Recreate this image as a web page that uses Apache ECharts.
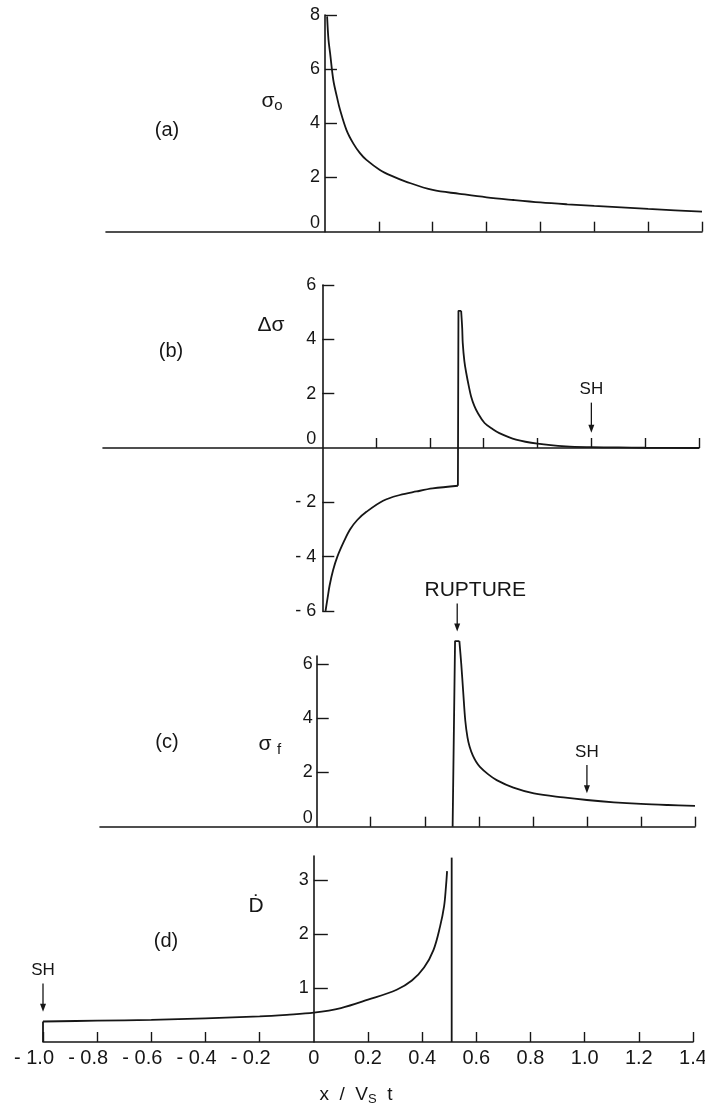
<!DOCTYPE html>
<html>
<head>
<meta charset="utf-8">
<script src="https://cdn.jsdelivr.net/npm/echarts@6/dist/echarts.min.js"></script>
<style>
  html, body { margin: 0; padding: 0; background: #ffffff; }
  #chart { width: 705px; height: 1105px; }
</style>
</head>
<body>
<div id="chart"></div>
<script>
// ---------- data ----------
// (a) initial stress sigma_0 vs x / Vs t
const sigma0X = [0.008, 0.013, 0.019, 0.031, 0.045, 0.056, 0.08, 0.105, 0.13, 0.154, 0.204, 0.25, 0.30, 0.40, 0.50, 0.60, 0.70, 0.80, 0.90, 1.00, 1.10, 1.20, 1.30, 1.40];
const sigma0Y = [7.95, 7.1, 6.6, 5.6, 4.95, 4.5, 3.75, 3.26, 2.9, 2.65, 2.28, 2.05, 1.85, 1.54, 1.40, 1.27, 1.17, 1.08, 1.01, 0.95, 0.90, 0.84, 0.79, 0.74];

// (b) stress change: negative branch, jump at the rupture front, decaying peak
const dSigmaNegX = [0.012, 0.02, 0.027, 0.04, 0.056, 0.08, 0.103, 0.13, 0.164, 0.226, 0.288, 0.35, 0.41, 0.504];
const dSigmaNegY = [-6.0, -5.5, -5.07, -4.5, -4.0, -3.45, -3.0, -2.65, -2.35, -1.94, -1.73, -1.6, -1.49, -1.39];
const dSigmaJumpX = [0.504, 0.506, 0.516];
const dSigmaJumpY = [-1.39, 5.05, 5.05];
const dSigmaPosX = [0.516, 0.52, 0.522, 0.528, 0.535, 0.545, 0.553, 0.565, 0.578, 0.603, 0.63, 0.658, 0.72, 0.80, 0.905, 1.0, 1.1, 1.2, 1.4];
const dSigmaPosY = [5.05, 4.4, 3.86, 3.2, 2.76, 2.25, 1.9, 1.55, 1.29, 0.92, 0.72, 0.55, 0.31, 0.16, 0.06, 0.03, 0.02, 0.01, 0.0];

// (c) final stress sigma_f
const sigmaFRiseX = [0.503, 0.512, 0.528];
const sigmaFRiseY = [0.0, 6.85, 6.85];
const sigmaFDecayX = [0.528, 0.535, 0.542, 0.55, 0.558, 0.566, 0.578, 0.59, 0.604, 0.635, 0.666, 0.728, 0.804, 0.913, 1.0, 1.1, 1.2, 1.3, 1.4];
const sigmaFDecayY = [6.85, 6.0, 5.0, 3.9, 3.3, 2.95, 2.62, 2.4, 2.21, 1.93, 1.72, 1.44, 1.23, 1.08, 0.985, 0.90, 0.84, 0.80, 0.77];

// (d) slip velocity D-dot
const dDotEdgeX = [-1.0, -1.0];
const dDotEdgeY = [0.0, 0.38];
const dDotX = [-1.0, -0.8, -0.6, -0.4, -0.2, -0.1, 0.0, 0.1, 0.2, 0.306, 0.362, 0.407, 0.442, 0.466, 0.481, 0.488, 0.492];
const dDotY = [0.38, 0.395, 0.41, 0.44, 0.475, 0.505, 0.545, 0.63, 0.785, 0.97, 1.14, 1.38, 1.71, 2.14, 2.52, 2.89, 3.17];
const frontX = [0.509, 0.509];
const frontY = [0.0, 3.42];

// tick positions
const xTicksUpper = [0.2, 0.4, 0.6, 0.8, 1.0, 1.2, 1.4];
const xTicksLower = [-1.0, -0.8, -0.6, -0.4, -0.2, 0.2, 0.4, 0.6, 0.8, 1.0, 1.2, 1.4];
const xLabelsLower = [-1.0, -0.8, -0.6, -0.4, -0.2, 0, 0.2, 0.4, 0.6, 0.8, 1.0, 1.2, 1.4];
const yTicksA = [2, 4, 6, 8];
const yLabelsA = [0, 2, 4, 6, 8];
const yTicksB = [-6, -4, -2, 2, 4, 6];
const yLabelsB = [-6, -4, -2, 0, 2, 4, 6];
const yTicksC = [2, 4, 6];
const yLabelsC = [0, 2, 4, 6];
const yTicksD = [1, 2, 3];
const yLabelsD = [1, 2, 3];

// arrows with captions: x, arrow start (y), arrow tip (y), caption
const arrowsBX = [1.0];
const arrowsBFrom = [1.67];
const arrowsBTo = [0.56];
const arrowsBText = ['SH'];
const arrowsCX = [0.52, 1.0];
const arrowsCFrom = [8.24, 2.28];
const arrowsCTo = [7.2, 1.23];
const arrowsCText = ['RUPTURE', 'SH'];
const arrowsDX = [-1.0];
const arrowsDFrom = [1.087];
const arrowsDTo = [0.56];
const arrowsDText = ['SH'];

// ---------- styling ----------
const INK = '#161616';
const FONT = '"Liberation Sans", "DejaVu Sans", Arial, sans-serif';
const captionStyle = { SH: { size: 17, dx: 0 }, RUPTURE: { size: 21, dx: 18 } };

// panel frames: grid box in pixels plus x range
const frames = [
  { left: 106, right: 3, top: 15, height: 216.7, xMin: -0.813, xMax: 1.4 },
  { left: 103, right: 6, top: 285, height: 326, xMin: -0.815, xMax: 1.4 },
  { left: 100, right: 10, top: 656, height: 170.7, xMin: -0.802, xMax: 1.4 },
  { left: 43, right: 12, top: 856, height: 186, xMin: -1.0, xMax: 1.4 }
];
const CHART_W = 705;

function pairs(xs, ys) { return xs.map((x, k) => [x, ys[k]]); }

function curve(gi, xs, ys, smooth) {
  return {
    type: 'line', xAxisIndex: gi, yAxisIndex: gi,
    data: pairs(xs, ys),
    symbol: 'none', showSymbol: false,
    smooth: smooth ? 0.35 : false,
    clip: false, silent: true, animation: false,
    lineStyle: { color: INK, width: 1.8 }
  };
}

function arrows(gi, xs, from, to, texts) {
  return {
    type: 'custom', xAxisIndex: gi, yAxisIndex: gi,
    data: xs.map((x, k) => [x, from[k], to[k]]),
    encode: { x: 0, y: [1, 2] },
    clip: false, silent: true, animation: false,
    renderItem: function (params, api) {
      const p0 = api.coord([api.value(0), api.value(1)]);
      const p1 = api.coord([api.value(0), api.value(2)]);
      const text = texts[params.dataIndex];
      const cs = captionStyle[text];
      return {
        type: 'group',
        children: [
          { type: 'line', shape: { x1: p0[0], y1: p0[1], x2: p1[0], y2: p1[1] - 5 },
            style: { stroke: INK, lineWidth: 1.3 } },
          { type: 'polygon', shape: { points: [[p1[0] - 3, p1[1] - 8], [p1[0] + 3, p1[1] - 8], [p1[0], p1[1]]] },
            style: { fill: INK } },
          { type: 'text', x: p0[0] + cs.dx, y: p0[1] - 13,
            style: { text: text, fontSize: cs.size, fontFamily: FONT, fill: INK, align: 'center', verticalAlign: 'middle' } }
        ]
      };
    }
  };
}

function fmtY(v) {
  if (v === 0) return '{z|0}';
  return v < 0 ? '- ' + Math.abs(v) : String(v);
}
function fmtX(v) {
  if (v === 0) return '0';
  return v < 0 ? '{n|- ' + Math.abs(v).toFixed(1) + '}' : v.toFixed(1);
}

const axisLineStyle = { color: INK, width: 1.6 };
const tickLineStyle = { color: INK, width: 1.4 };

function xAxisCfg(gi, ticks, labels) {
  const f = frames[gi];
  const cfg = {
    type: 'value', gridIndex: gi, min: f.xMin, max: f.xMax,
    axisLine: { show: true, onZero: true, lineStyle: axisLineStyle },
    axisTick: { show: true, inside: true, length: 10, lineStyle: tickLineStyle, customValues: ticks },
    axisLabel: { show: false },
    splitLine: { show: false }
  };
  if (labels) {
    cfg.axisLabel = {
      show: true, customValues: labels, formatter: fmtX, margin: 6,
      color: INK, fontFamily: FONT, fontSize: 20,
      rich: { n: { padding: [0, 18, 0, 0], fontSize: 20, fontFamily: FONT, color: INK } }
    };
  }
  return cfg;
}

// the vertical axis sits at x = 0, shifted in from the grid's left edge
function yAxisCfg(gi, min, max, ticks, labels, margin, tickLen) {
  const f = frames[gi];
  const width = CHART_W - f.left - f.right;
  const shift = (0 - f.xMin) / (f.xMax - f.xMin) * width;
  return {
    type: 'value', gridIndex: gi, min: min, max: max,
    position: 'left', offset: -shift,
    axisLine: { show: true, onZero: false, lineStyle: axisLineStyle },
    axisTick: { show: true, inside: true, length: tickLen, lineStyle: tickLineStyle, customValues: ticks },
    axisLabel: {
      show: true, customValues: labels, formatter: fmtY, margin: margin,
      color: INK, fontFamily: FONT, fontSize: 18,
      rich: { z: { padding: [0, 0, 17, 0], fontSize: 18, fontFamily: FONT, color: INK } }
    },
    splitLine: { show: false }
  };
}

const xLower = xAxisCfg(3, xTicksLower, xLabelsLower);
xLower.name = '{t|x  /  V}{s|S}{t|  t}';
xLower.nameLocation = 'middle';
xLower.nameGap = 42;
xLower.nameTextStyle = {
  padding: [0, 24, 0, 0],
  rich: {
    t: { fontSize: 19, fontFamily: FONT, color: INK, lineHeight: 22 },
    s: { fontSize: 13, fontFamily: FONT, color: INK, lineHeight: 13, verticalAlign: 'bottom' }
  }
};

function label(text, x, y, size) {
  return { type: 'text', x: x, y: y, silent: true,
    style: { text: text, fontSize: size, fontFamily: FONT, fill: INK, align: 'center', verticalAlign: 'middle' } };
}

const option = {
  backgroundColor: '#ffffff',
  animation: false,
  grid: frames.map(f => ({ left: f.left, right: f.right, top: f.top, height: f.height, outerBoundsMode: 'none' })),
  xAxis: [
    xAxisCfg(0, xTicksUpper, null),
    xAxisCfg(1, xTicksUpper, null),
    xAxisCfg(2, xTicksUpper, null),
    xLower
  ],
  yAxis: [
    yAxisCfg(0, 0, 8, yTicksA, yLabelsA, 5, 12),
    yAxisCfg(1, -6, 6, yTicksB, yLabelsB, 6, 12),
    yAxisCfg(2, 0, 6.3, yTicksC, yLabelsC, 4, 12),
    yAxisCfg(3, 0, 3.45, yTicksD, yLabelsD, 5, 14)
  ],
  graphic: [
    label('(a)', 167, 130, 20),
    label('(b)', 171, 351, 20),
    label('(c)', 167, 742, 20),
    label('(d)', 166, 941, 20),
    label('σ', 268, 101, 21),
    label('o', 278.5, 106, 15),
    label('Δσ', 271, 325, 21),
    label('σ', 265, 744, 21),
    label('f', 279, 750, 15),
    label('Ḋ', 256, 906, 21)
  ],
  series: [
    curve(0, sigma0X, sigma0Y, true),
    curve(1, dSigmaNegX, dSigmaNegY, true),
    curve(1, dSigmaJumpX, dSigmaJumpY, false),
    curve(1, dSigmaPosX, dSigmaPosY, true),
    curve(2, sigmaFRiseX, sigmaFRiseY, false),
    curve(2, sigmaFDecayX, sigmaFDecayY, true),
    curve(3, dDotEdgeX, dDotEdgeY, false),
    curve(3, dDotX, dDotY, true),
    curve(3, frontX, frontY, false),
    arrows(1, arrowsBX, arrowsBFrom, arrowsBTo, arrowsBText),
    arrows(2, arrowsCX, arrowsCFrom, arrowsCTo, arrowsCText),
    arrows(3, arrowsDX, arrowsDFrom, arrowsDTo, arrowsDText)
  ]
};

const chart = echarts.init(document.getElementById('chart'), null, { renderer: 'canvas' });
chart.setOption(option);
</script>
</body>
</html>
